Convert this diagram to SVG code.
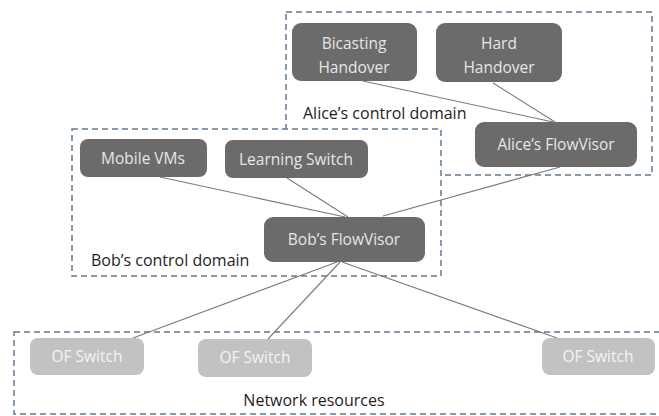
<svg xmlns="http://www.w3.org/2000/svg" width="659" height="416" viewBox="0 0 659 416">
<style>
.dom{fill:#fff;stroke:#5f7893;stroke-width:1.5;stroke-dasharray:6 4}
.dark{fill:#6b6b6b}
.light{fill:#c2c2c2}
.nt{font-family:"Open Sans","Noto Sans",sans-serif;font-size:15.5px;fill:#e6e6e6;text-anchor:middle}
.lt{font-family:"Open Sans","Noto Sans",sans-serif;font-size:15.5px;fill:#f4f4f4;text-anchor:middle}
.lab{font-family:"Open Sans","Noto Sans",sans-serif;font-size:16px;fill:#1e1e1e}
.con{stroke:#7a7a7a;stroke-width:1.1;fill:none}
</style>
<rect width="659" height="416" fill="#fff"/>
<g id="alice-domain">
<rect class="dom" x="286" y="12" width="366" height="163"/>
<text class="lab" x="303" y="119">Alice’s control domain</text>
</g>
<g id="bob-domain">
<rect class="dom" x="72" y="129" width="369" height="147"/>
<text class="lab" x="91" y="266">Bob’s control domain</text>
</g>
<g id="network-domain">
<rect class="dom" x="14" y="332" width="680" height="82"/>
<text class="lab" x="314" y="406" text-anchor="middle">Network resources</text>
</g>
<g id="connectors">
<line class="con" x1="363" y1="81" x2="553" y2="122"/>
<line class="con" x1="493" y1="83" x2="555" y2="122"/>
<line class="con" x1="560" y1="167" x2="383" y2="216"/>
<line class="con" x1="160" y1="177" x2="345" y2="217"/>
<line class="con" x1="287" y1="178" x2="348" y2="217"/>
<line class="con" x1="337" y1="262" x2="133" y2="338"/>
<line class="con" x1="340" y1="262" x2="268" y2="339"/>
<line class="con" x1="342" y1="262" x2="557" y2="338"/>
</g>
<g id="bicasting-handover">
<rect class="dark" x="292" y="23" width="125" height="58" rx="9"/>
<text class="nt" x="354" y="49">Bicasting</text>
<text class="nt" x="354" y="73">Handover</text>
</g>
<g id="hard-handover">
<rect class="dark" x="436" y="23" width="126" height="59" rx="9"/>
<text class="nt" x="499" y="49">Hard</text>
<text class="nt" x="499" y="73">Handover</text>
</g>
<g id="alice-flowvisor">
<rect class="dark" x="475" y="122" width="162" height="45" rx="9"/>
<text class="nt" x="556" y="150">Alice’s FlowVisor</text>
</g>
<g id="mobile-vms">
<rect class="dark" x="80" y="139" width="127" height="38" rx="8"/>
<text class="nt" x="143" y="164">Mobile VMs</text>
</g>
<g id="learning-switch">
<rect class="dark" x="225" y="140" width="143" height="38" rx="8"/>
<text class="nt" x="296" y="165">Learning Switch</text>
</g>
<g id="bob-flowvisor">
<rect class="dark" x="264" y="217" width="161" height="45" rx="9"/>
<text class="nt" x="344" y="245">Bob’s FlowVisor</text>
</g>
<g id="of-switch-1">
<rect class="light" x="30" y="338" width="114" height="37" rx="8"/>
<text class="lt" x="87" y="362">OF Switch</text>
</g>
<g id="of-switch-2">
<rect class="light" x="198" y="339" width="114" height="38" rx="8"/>
<text class="lt" x="255" y="363">OF Switch</text>
</g>
<g id="of-switch-3">
<rect class="light" x="542" y="338" width="113" height="37" rx="8"/>
<text class="lt" x="598" y="362">OF Switch</text>
</g>
</svg>
